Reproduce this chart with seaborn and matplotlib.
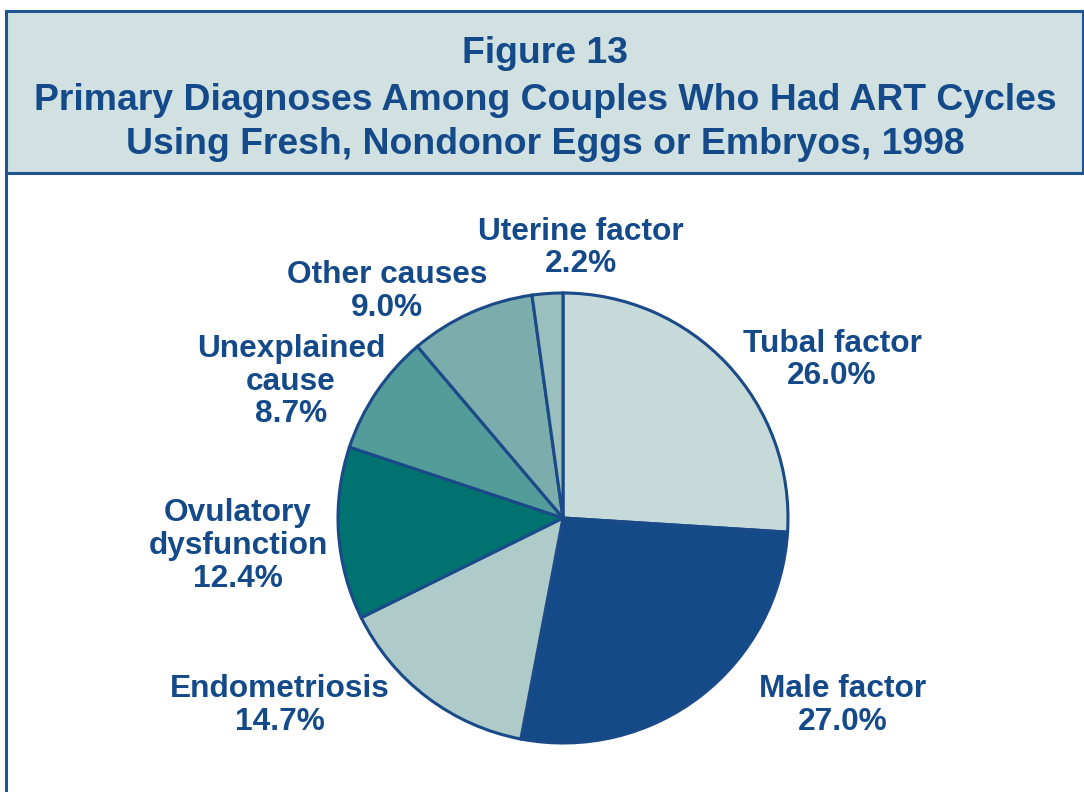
import matplotlib
matplotlib.use("Agg")
import matplotlib.pyplot as plt
from matplotlib.patches import Rectangle
from matplotlib.lines import Line2D
import seaborn as sns

# data
categories = ["Tubal factor", "Male factor", "Endometriosis", "Ovulatory\ndysfunction",
              "Unexplained\ncause", "Other causes", "Uterine factor"]
percents = [26.0, 27.0, 14.7, 12.4, 8.7, 9.0, 2.2]
slice_colors = ["#c6dad9", "#144a87", "#aecbca", "#007370", "#539c9a", "#7aadab", "#9bbfbe"]
title_lines = ["Figure 13",
               "Primary Diagnoses Among Couples Who Had ART Cycles",
               "Using Fresh, Nondonor Eggs or Embryos, 1998"]

# label centres relative to the pie centre, in units of the radius
label_xy = [(1.196, 0.702), (1.244, -0.834), (-1.258, -0.834), (-1.444, -0.125),
            (-1.209, 0.606), (-0.782, 1.006), (0.080, 1.200)]

navy = "#154a8a"
W, H = 1084, 792

sns.set_theme(style="white")
plt.rcParams["font.family"] = ["Liberation Sans", "DejaVu Sans"]

fig = plt.figure(figsize=(W / 100, H / 100), dpi=100)
fig.patch.set_facecolor("white")

# header box and left frame line
fig.add_artist(Rectangle((6 / W, (H - 173) / H), (1083 - 6) / W, (173 - 11) / H,
                         transform=fig.transFigure, facecolor="#d1e0e0",
                         edgecolor="#1f5491", linewidth=2.2))
fig.add_artist(Line2D([6 / W, 6 / W], [0, (H - 173) / H], transform=fig.transFigure,
                      color="#1f5491", linewidth=2.2))

baselines = [62.7, 109.5, 154]
for line, yb in zip(title_lines, baselines):
    fig.text(545 / W, (H - yb) / H, line, ha="center", va="baseline",
             fontsize=26.9, fontweight="bold", color=navy)

# pie axes: centre at (563, 518) px, radius 225 px
cx, cy, r = 563, H - 518, 225
ax = fig.add_axes([0, 0, 1, 1])
labels = [f"{c}\n{p:.1f}%" for c, p in zip(categories, percents)]
wedges, texts = ax.pie(percents, labels=labels, colors=slice_colors, startangle=90,
                       counterclock=False,
                       wedgeprops=dict(edgecolor="#1a4a88", linewidth=2.2),
                       textprops=dict(fontsize=22.8, fontweight="bold", color=navy,
                                      ha="center", va="center", linespacing=1.12))
for t, (dx, dy) in zip(texts, label_xy):
    t.set_position((dx, dy))
    t.set_ha("center")
    t.set_va("center")
ax.set_aspect("auto")
ax.set_xlim(-cx / r, (W - cx) / r)
ax.set_ylim(-cy / r, (H - cy) / r)
ax.axis("off")

fig.savefig("out.png", dpi=100)
